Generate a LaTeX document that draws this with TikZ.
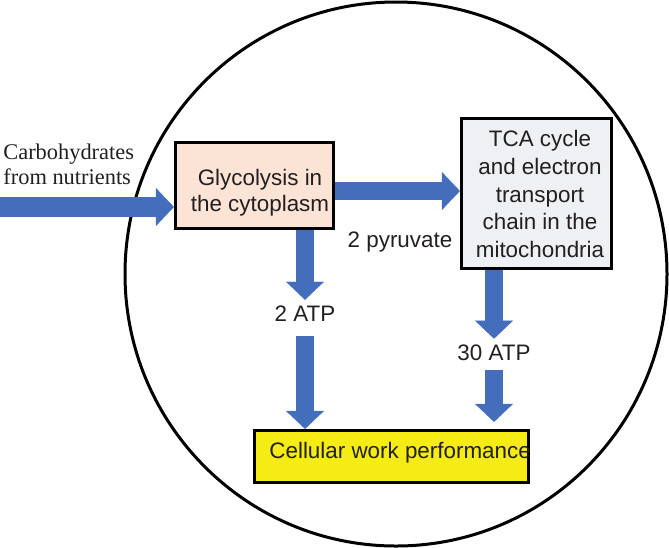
\documentclass[tikz,border=0pt]{standalone}
\usepackage{fontspec}
\setmainfont{Liberation Serif}
\setsansfont{Liberation Sans}
\usetikzlibrary{arrows.meta}
\definecolor{arrowblue}{RGB}{68,110,188}
\definecolor{glycofill}{RGB}{251,227,214}
\definecolor{tcafill}{RGB}{238,240,243}
\definecolor{workfill}{RGB}{245,236,22}
\definecolor{inktext}{RGB}{35,31,32}

\begin{document}
\begin{tikzpicture}[x=0.5pt,y=-0.5pt,
        procbox/.style={draw=black,line width=1.6pt,inner sep=0pt},
        steplabel/.style={inner sep=3pt,text=inktext,align=center,font=\sffamily\fontsize{11.2pt}{13pt}\selectfont},
        blockarrow/.style={draw=arrowblue,line width=9pt,
            -{Triangle[length=9pt,width=19pt,line width=0.2pt,fill=arrowblue]}}]
                \useasboundingbox (0,0) rectangle (669,547);
                % the cell
                \draw[line width=1.5pt] (396,274) circle[x radius=271,y radius=272];

                \node[procbox,fill=glycofill,minimum width=79pt,minimum height=43pt] (glyco) at (254.5,185.5) {};
                \node[steplabel,inner sep=0pt] (glycotext) at (260,193) {Glycolysis in\\the cytoplasm};
                \node[procbox,fill=tcafill,minimum width=75pt,minimum height=75pt] (tca) at (536.5,193.5) {};
                \node[steplabel,inner sep=0pt,font=\sffamily\fontsize{11.2pt}{13.9pt}\selectfont] (tcatext) at (540,194) {TCA cycle\\and electron\\transport\\chain in the\\mitochondria};
                \node[procbox,fill=workfill,minimum width=137pt,minimum height=26pt] (work) at (391.5,456.5) {};
                \node[steplabel,inner sep=0pt,anchor=west] (worktext) at (269,453) {Cellular work performance};

                \node[anchor=west,inner sep=0pt,align=left,text=inktext,
                    font=\rmfamily\fontsize{11.2pt}{12.5pt}\selectfont] (carbo) at (3,164) {Carbohydrates\\from nutrients};
                \node[steplabel] (pyruvate) at (400,242) {2 pyruvate};
                \node[steplabel] (atpglyco) at (305,314) {2 ATP};
                \node[steplabel] (atptca) at (494,353) {30 ATP};

                % block arrows
                \coordinate (carbin) at (0,207);
                \coordinate (glycout) at ([yshift=-2.75pt]glyco.east);
                \draw[blockarrow,line width=10pt] (carbin) -- (carbin -| glyco.west);
                \draw[blockarrow] (glycout) -- (glycout -| tca.west);
                \draw[blockarrow] (atpglyco |- glyco.south) -- (atpglyco.north);
                \draw[blockarrow] ([yshift=-4pt]atpglyco.south) -- (atpglyco |- work.north);
                \draw[blockarrow] (atptca |- tca.south) -- (atptca.north);
                \draw[blockarrow,shorten >=3.5pt] ([yshift=-1.5pt]atptca.south) -- (atptca |- work.north);
\end{tikzpicture}
\end{document}
